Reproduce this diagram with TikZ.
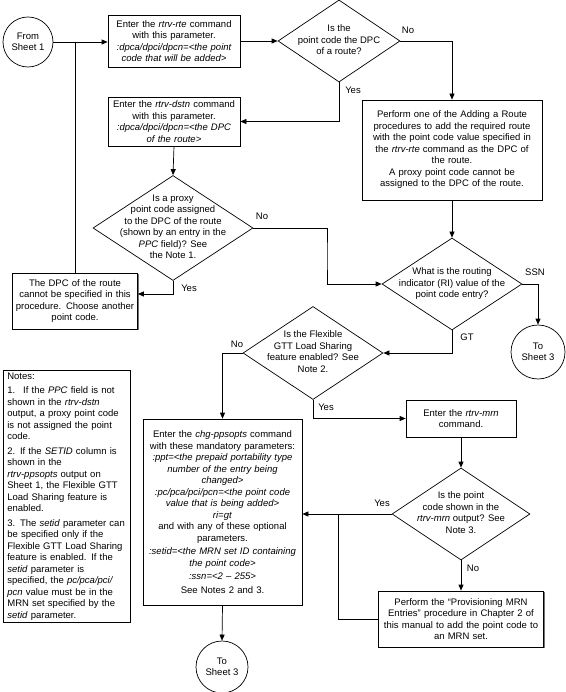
\documentclass[tikz,border=0pt]{standalone}
\usepackage{fontspec}
\setmainfont{Liberation Sans}
\usetikzlibrary{shapes.geometric,arrows.meta,shadows}
\newcommand\dtxt[1]{\makebox[0pt]{\smash{\raisebox{-2pt}{\begin{tabular}{@{}c@{}}#1\end{tabular}}}}}
\begin{document}
\begin{tikzpicture}[x=1pt,y=-1pt,line width=0.7pt,
  every node/.style={font=\fontsize{9.5}{11.5}\selectfont},
  box/.style={draw, rectangle, align=center, inner sep=2pt, fill=white,
    drop shadow={shadow xshift=1pt,shadow yshift=-1pt,fill=black!55,opacity=1}},
  dia/.style={draw, diamond, inner sep=0pt, fill=white},
  term/.style={draw, circle, inner sep=0pt, align=center},
  lab/.style={inner sep=1pt},
  arr/.style={-{Triangle[length=6pt,width=5pt]}}]
\useasboundingbox (0,0) rectangle (565,692);

% nodes
\node[term, minimum size=50] (s1) at (28,42) {From\\Sheet 1};
\node[box, text width=128, minimum height=52] (b1) at (174,41)
  {Enter the \textit{rtrv-rte} command\\with this parameter.\\\textit{:dpca/dpci/dpcn=<the point\\code that will be added>}};
\node[dia, minimum width=122, minimum height=82] (d1) at (339,41)
  {\dtxt{Is the\\point code the DPC\\of a route?}};
\node[box, text width=176, minimum height=100] (b2) at (452,150)
  {Perform one of the Adding a Route\\procedures to add the required route\\with the point code value specified in\\the \textit{rtrv-rte} command as the DPC of\\the route.\\A proxy point code cannot be\\assigned to the DPC of the route.};
\node[box, text width=128, minimum height=49] (b3) at (174,121.5)
  {Enter the \textit{rtrv-dstn} command\\with this parameter.\\\textit{:dpca/dpci/dpcn=<the DPC\\of the route>}};
\node[dia, minimum width=160, minimum height=105] (d2) at (173,228)
  {\dtxt{Is a proxy\\point code assigned\\to the DPC of the route\\(shown by an entry in the\\\textit{PPC} field)? See\\the Note 1.}};
\node[box, text width=121, minimum height=56] (b4) at (75,301)
  {The DPC of the route\\cannot be specified in this\\procedure. Choose another\\point code.};
\node[dia, minimum width=140, minimum height=92] (d3) at (452,284)
  {\dtxt{What is the routing\\indicator (RI) value of the\\point code entry?}};
\node[term, minimum size=54] (s2) at (538,352) {To\\Sheet 3};
\node[dia, minimum width=140, minimum height=93] (d4) at (313,353)
  {\dtxt{Is the Flexible\\GTT Load Sharing\\feature enabled? See\\Note 2.}};
\node[box, text width=155, minimum height=186] (b5) at (222.5,512)
  {Enter the \textit{chg-ppsopts} command\\with these mandatory parameters:\\\textit{:ppt=<the prepaid portability type\\number of the entry being\\changed>}\\\textit{:pc/pca/pci/pcn=<the point code\\value that is being added>}\\\textit{ri=gt}\\and with any of these optional\\parameters.\\[2pt]\textit{:setid=<the MRN set ID containing\\the point code>}\\[2pt]\textit{:ssn=<2 -- 255>}\\[2pt]See Notes 2 and 3.};
\node[box, text width=119, minimum height=252, inner xsep=4pt, align=left, anchor=north west] (notes) at (3,370)
  {Notes:\\[3pt]
   1.~ If the \textit{PPC} field is not\\shown in the \textit{rtrv-dstn}\\output, a proxy point code\\is not assigned the point\\code.\\[3pt]
   2. If the \textit{SETID} column is\\shown in the\\\textit{rtrv-ppsopts} output on\\Sheet 1, the Flexible GTT\\Load Sharing feature is\\enabled.\\[3pt]
   3. The \textit{setid} parameter can\\be specified only if the\\Flexible GTT Load Sharing\\feature is enabled. If the\\\textit{setid} parameter is\\specified, the \textit{pc/pca/pci/}\\\textit{pcn} value must be in the\\MRN set specified by the\\\textit{setid} parameter.};
\node[box, text width=106, minimum height=37] (b6) at (461,418.5)
  {Enter the \textit{rtrv-mrn}\\command.};
\node[dia, minimum width=138, minimum height=92] (d5) at (461,514)
  {\dtxt{Is the point\\code shown in the\\\textit{rtrv-mrn} output? See\\Note 3.}};
\node[box, text width=161, minimum height=56] (b7) at (461,619)
  {Perform the ``Provisioning MRN\\Entries'' procedure in Chapter 2 of\\this manual to add the point code to\\an MRN set.};
\node[term, minimum size=52] (s3) at (222,667) {To\\Sheet 3};

% helper coordinates
\coordinate (k2) at (327,256);
\coordinate (k3) at (173,294);
\coordinate (k4) at (338,514);

% connectors
\draw[arr] (s1.east) -- (s1.east -| b1.west);
\draw (b4.north) -- (b4.north |- s1.east);
\draw[arr] (b1.east) -- (d1.west);
\draw[arr] (d1.east) -| (b2.north);
\draw[arr] (d1.south) |- (b3.east);
\draw[arr] (b3.south) -- (d2.north);
\draw[arr] (d2.east) -| (k2) |- (d3.west);
\draw[arr] (d2.south) -- (k3) -- (k3 -| b4.east);
\draw[arr] (b2.south) -- (d3.north);
\draw[arr] (d3.east) -| (s2.north);
\draw[arr] (d3.south) |- (d4.east);
\draw[arr] (d4.west) -| (b5.north);
\draw[arr] (d4.south) |- (b6.west);
\draw[arr] (b6.south) -- (d5.north);
\draw[arr] (d5.west) -- (d5.west -| b5.east);
\draw[arr] (d5.south) -- (b7.north);
\draw (b7.west) -| (k4);
\draw[arr] (b5.south) -- (s3.north);

% labels
\node[lab] (l1) at (408,30) {No};
\node[lab] (l2) at (353,90) {Yes};
\node[lab] (l3) at (262,216) {No};
\node[lab] (l4) at (189,288) {Yes};
\node[lab] (l5) at (535,272) {SSN};
\node[lab] (l6) at (467,337) {GT};
\node[lab] (l7) at (237,344) {No};
\node[lab] (l8) at (326,407) {Yes};
\node[lab] (l9) at (382,503) {Yes};
\node[lab] (l10) at (473,568) {No};
\end{tikzpicture}
\end{document}
